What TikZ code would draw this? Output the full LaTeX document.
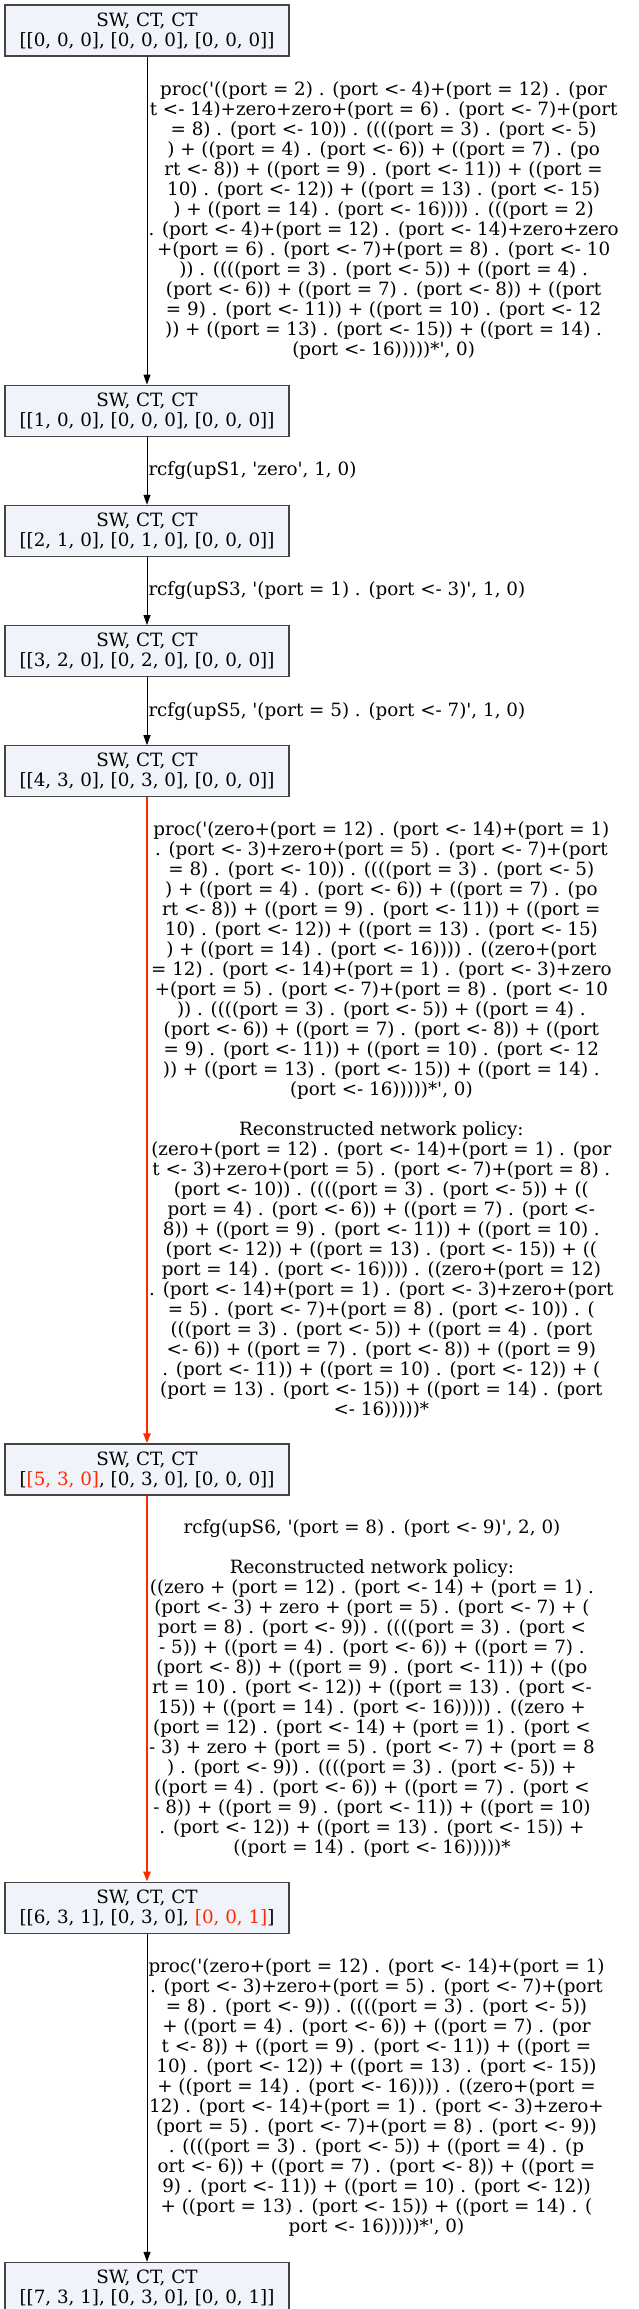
\documentclass[tikz,border=0pt]{standalone}
\usepackage{fontspec}
\setmainfont{DejaVu Serif}
\usepackage{xcolor}
\usepackage{tikz}
\usetikzlibrary{arrows.meta,positioning}
\definecolor{stategray}{HTML}{444444}
\definecolor{statefill}{HTML}{F0F3FA}
\definecolor{hlred}{HTML}{FF2A00}
\newcommand{\q}{\textquotesingle}
\tikzset{
  state/.style={rectangle,draw=stategray,fill=statefill,line width=1.2pt,align=center,minimum width=284pt,minimum height=51pt,inner sep=0pt,font=\fontsize{18.3pt}{20pt}\selectfont},
  edge/.style={-{Triangle[length=10pt,width=7pt]},line width=1pt,draw=black},
  rededge/.style={-{Triangle[length=10pt,width=7pt]},line width=2.4pt,draw=hlred},
  lbl/.style={anchor=west,inner sep=0pt,xshift=1pt,align=center,font=\fontsize{18.3pt}{20pt}\selectfont}
}
\begin{document}
\begin{tikzpicture}
\useasboundingbox (0,0) rectangle (638pt,-2309pt);
\node[state] (s0) at (147pt,-30.5pt) {SW, CT, CT\\{}[[0, 0, 0], [0, 0, 0], [0, 0, 0]]};
\node[state,below=328pt of s0] (s1) {SW, CT, CT\\{}[[1, 0, 0], [0, 0, 0], [0, 0, 0]]};
\node[state,below=68pt of s1] (s2) {SW, CT, CT\\{}[[2, 1, 0], [0, 1, 0], [0, 0, 0]]};
\node[state,below=68pt of s2] (s3) {SW, CT, CT\\{}[[3, 2, 0], [0, 2, 0], [0, 0, 0]]};
\node[state,below=68pt of s3] (s4) {SW, CT, CT\\{}[[4, 3, 0], [0, 3, 0], [0, 0, 0]]};
\node[state,below=646pt of s4] (s5) {SW, CT, CT\\{}[\textcolor{hlred}{[5, 3, 0]}, [0, 3, 0], [0, 0, 0]]};
\node[state,below=386pt of s5] (s6) {SW, CT, CT\\{}[[6, 3, 1], [0, 3, 0], \textcolor{hlred}{[0, 0, 1]}]};
\node[state,below=328pt of s6] (s7) {SW, CT, CT\\{}[[7, 3, 1], [0, 3, 0], [0, 0, 1]]};
\draw[edge] (s0) -- node[lbl] {proc(\q((port = 2) . (port <- 4)+(port = 12) . (por\\
t <- 14)+zero+zero+(port = 6) . (port <- 7)+(port\\
= 8) . (port <- 10)) . ((((port = 3) . (port <- 5)\\
) + ((port = 4) . (port <- 6)) + ((port = 7) . (po\\
rt <- 8)) + ((port = 9) . (port <- 11)) + ((port =\\
10) . (port <- 12)) + ((port = 13) . (port <- 15)\\
) + ((port = 14) . (port <- 16)))) . (((port = 2)\\
. (port <- 4)+(port = 12) . (port <- 14)+zero+zero\\
+(port = 6) . (port <- 7)+(port = 8) . (port <- 10\\
)) . ((((port = 3) . (port <- 5)) + ((port = 4) .\\
(port <- 6)) + ((port = 7) . (port <- 8)) + ((port\\
= 9) . (port <- 11)) + ((port = 10) . (port <- 12\\
)) + ((port = 13) . (port <- 15)) + ((port = 14) .\\
(port <- 16)))))*\q, 0)} (s1);
\draw[edge] (s1) -- node[lbl] {rcfg(upS1, \q zero\q, 1, 0)} (s2);
\draw[edge] (s2) -- node[lbl] {rcfg(upS3, \q(port = 1) . (port <- 3)\q, 1, 0)} (s3);
\draw[edge] (s3) -- node[lbl] {rcfg(upS5, \q(port = 5) . (port <- 7)\q, 1, 0)} (s4);
\draw[rededge] (s4) -- node[lbl] {proc(\q(zero+(port = 12) . (port <- 14)+(port = 1)\\
. (port <- 3)+zero+(port = 5) . (port <- 7)+(port\\
= 8) . (port <- 10)) . ((((port = 3) . (port <- 5)\\
) + ((port = 4) . (port <- 6)) + ((port = 7) . (po\\
rt <- 8)) + ((port = 9) . (port <- 11)) + ((port =\\
10) . (port <- 12)) + ((port = 13) . (port <- 15)\\
) + ((port = 14) . (port <- 16)))) . ((zero+(port\\
= 12) . (port <- 14)+(port = 1) . (port <- 3)+zero\\
+(port = 5) . (port <- 7)+(port = 8) . (port <- 10\\
)) . ((((port = 3) . (port <- 5)) + ((port = 4) .\\
(port <- 6)) + ((port = 7) . (port <- 8)) + ((port\\
= 9) . (port <- 11)) + ((port = 10) . (port <- 12\\
)) + ((port = 13) . (port <- 15)) + ((port = 14) .\\
(port <- 16)))))*\q, 0)\\[20pt]
Reconstructed network policy:\\
(zero+(port = 12) . (port <- 14)+(port = 1) . (por\\
t <- 3)+zero+(port = 5) . (port <- 7)+(port = 8) .\\
(port <- 10)) . ((((port = 3) . (port <- 5)) + ((\\
port = 4) . (port <- 6)) + ((port = 7) . (port <-\\
8)) + ((port = 9) . (port <- 11)) + ((port = 10) .\\
(port <- 12)) + ((port = 13) . (port <- 15)) + ((\\
port = 14) . (port <- 16)))) . ((zero+(port = 12)\\
. (port <- 14)+(port = 1) . (port <- 3)+zero+(port\\
= 5) . (port <- 7)+(port = 8) . (port <- 10)) . (\\
(((port = 3) . (port <- 5)) + ((port = 4) . (port\\
<- 6)) + ((port = 7) . (port <- 8)) + ((port = 9)\\
. (port <- 11)) + ((port = 10) . (port <- 12)) + (\\
(port = 13) . (port <- 15)) + ((port = 14) . (port\\
<- 16)))))*} (s5);
\draw[rededge] (s5) -- node[lbl] {rcfg(upS6, \q(port = 8) . (port <- 9)\q, 2, 0)\\[20pt]
Reconstructed network policy:\\
((zero + (port = 12) . (port <- 14) + (port = 1) .\\
(port <- 3) + zero + (port = 5) . (port <- 7) + (\\
port = 8) . (port <- 9)) . ((((port = 3) . (port <\\
- 5)) + ((port = 4) . (port <- 6)) + ((port = 7) .\\
(port <- 8)) + ((port = 9) . (port <- 11)) + ((po\\
rt = 10) . (port <- 12)) + ((port = 13) . (port <-\\
15)) + ((port = 14) . (port <- 16))))) . ((zero +\\
(port = 12) . (port <- 14) + (port = 1) . (port <\\
- 3) + zero + (port = 5) . (port <- 7) + (port = 8\\
) . (port <- 9)) . ((((port = 3) . (port <- 5)) +\\
((port = 4) . (port <- 6)) + ((port = 7) . (port <\\
- 8)) + ((port = 9) . (port <- 11)) + ((port = 10)\\
. (port <- 12)) + ((port = 13) . (port <- 15)) +\\
((port = 14) . (port <- 16)))))*} (s6);
\draw[edge] (s6) -- node[lbl] {proc(\q(zero+(port = 12) . (port <- 14)+(port = 1)\\
. (port <- 3)+zero+(port = 5) . (port <- 7)+(port\\
= 8) . (port <- 9)) . ((((port = 3) . (port <- 5))\\
+ ((port = 4) . (port <- 6)) + ((port = 7) . (por\\
t <- 8)) + ((port = 9) . (port <- 11)) + ((port =\\
10) . (port <- 12)) + ((port = 13) . (port <- 15))\\
+ ((port = 14) . (port <- 16)))) . ((zero+(port =\\
12) . (port <- 14)+(port = 1) . (port <- 3)+zero+\\
(port = 5) . (port <- 7)+(port = 8) . (port <- 9))\\
. ((((port = 3) . (port <- 5)) + ((port = 4) . (p\\
ort <- 6)) + ((port = 7) . (port <- 8)) + ((port =\\
9) . (port <- 11)) + ((port = 10) . (port <- 12))\\
+ ((port = 13) . (port <- 15)) + ((port = 14) . (\\
port <- 16)))))*\q, 0)} (s7);
\end{tikzpicture}
\end{document}
